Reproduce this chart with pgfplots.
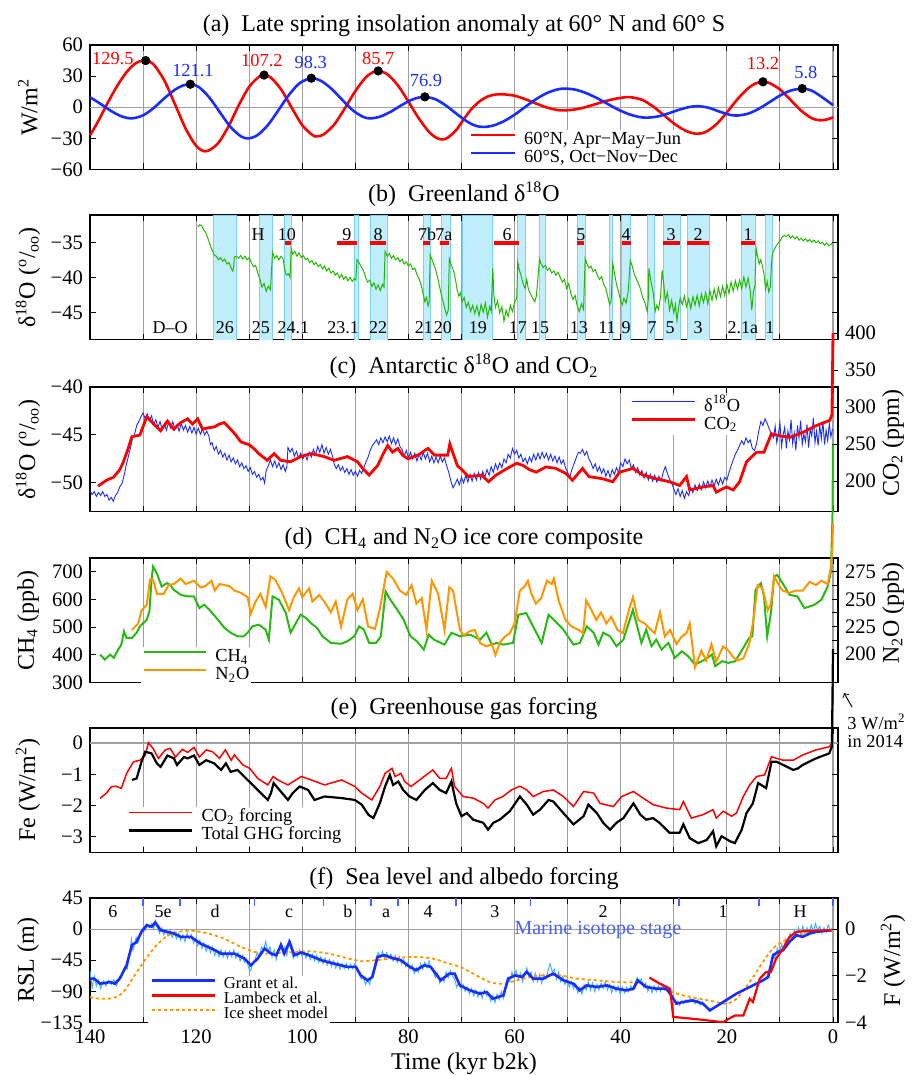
\documentclass[border=0pt]{standalone}
\usepackage{fontspec}
\setmainfont{Liberation Serif}
\usepackage{pgfplots}
\pgfplotsset{compat=1.18}

\definecolor{cred}{RGB}{255,0,0}
\definecolor{cblue}{RGB}{25,45,255}
\definecolor{cgreen}{RGB}{35,185,0}
\definecolor{cch4}{RGB}{40,185,20}
\definecolor{corange}{RGB}{255,150,0}
\definecolor{clight}{RGB}{70,175,255}
\definecolor{cmis}{RGB}{70,95,255}
\definecolor{cband}{RGB}{192,238,252}
\definecolor{cbandedge}{RGB}{125,208,245}
\definecolor{cgrid}{RGB}{160,160,160}

\newcommand\fT{\fontsize{12}{14}\selectfont}
\newcommand\fK{\fontsize{10.3}{12}\selectfont}
\newcommand\fL{\fontsize{9.2}{11}\selectfont}
\newcommand\fS{\fontsize{9}{10.5}\selectfont}
\newcommand\band[2]{\addplot[fill=cband, draw=cbandedge, line width=0.4pt, forget plot] coordinates {(#1,-48.8) (#1,-31) (#2,-31) (#2,-48.8)};}

\pgfplotsset{
  every axis title shift=0pt,
  pan/.style={
    scale only axis, width=374pt, height=62.25pt,
    xmin=-0.94, xmax=140, x dir=reverse,
    xtick={0,10,...,140}, xticklabels={},
    xmajorgrids, major grid style={cgrid, line width=0.55pt},
    axis line style={line width=0.85pt},
    tick style={black, line width=0.5pt}, major tick length=3pt, tick align=inside,
    tick label style={font=\fK},
    /pgf/number format/assume math mode=true,
    title style={at={(0.5,1)}, anchor=base, yshift=6.8pt, font=\fT},
    ylabel style={at={(axis description cs:-0.0829,0.5)}, anchor=center, font=\fT},
    legend cell align=left,
    legend style={draw=none, fill=white, font=\fL, inner sep=1pt,
      nodes={inner sep=0pt, text height=6.5pt, text depth=2pt},
      row sep=0.5pt, /tikz/every odd column/.append style={column sep=4pt}},
  },
  rax/.style={
    scale only axis, width=374pt,
    xmin=-0.94, xmax=140, x dir=reverse,
    axis x line=none, axis y line*=right, xtick=\empty,
    y axis line style={draw=none},
    tick style={black, line width=0.5pt}, major tick length=3pt, tick align=inside,
    tick label style={font=\fK},
    /pgf/number format/assume math mode=true,
    ylabel style={anchor=center, font=\fT},
  },
}

\begin{document}
\begin{tikzpicture}

% ---------------- (a) insolation
\begin{axis}[pan, at={(0pt,-22.5pt)}, anchor=north west, clip=false,
  ymin=-60, ymax=60, ytick={-60,-30,0,30,60}, yticklabels={−60,−30,0,30,60},
  title={(a)\enspace Late spring insolation anomaly at 60° N and 60° S},
  ylabel={W/m\textsuperscript{2}},
  legend style={at={(axis description cs:0.505,0.323)}, anchor=north west},
  legend image code/.code={\draw[#1] (0pt,2.5pt) -- (21.7pt,2.5pt);}]
\addplot[cgrid, line width=0.55pt, forget plot] coordinates {(-0.94,0) (140,0)};
\addplot[cred, line width=1.3pt, smooth] coordinates {
(140,-27) (139,-18.5) (138,-9) (137,1) (136,10.5) (135,19.5) (134,27.5) (133,34.5) (132,40) (131,43.5) (130,45) (129.5,45.2)
(128,41.2) (126,25.9) (124,3.0) (122,-20.3) (120,-37.2) (118.2,-42.5) (116,-35.5) (114,-19.4) (112,1.6) (110,19.8) (108,30.0) (107.2,31)
(106,28.9) (104,17.3) (102,-0.4) (100,-17.3) (98,-27.1) (97.2,-28) (96,-26.3) (94,-16.8) (92,-1.2) (90,15.6) (88,29) (86.5,34.2) (85.7,35)
(84,31.9) (82,21.2) (80,5.4) (78,-11.1) (76,-24.4) (74.5,-30) (73.5,-31) (72.5,-29) (71,-22) (69.5,-11) (68,-1) (66.5,6) (65,10.5) (63.5,12.3) (62.2,12.5)
(60,11.1) (58,7.8) (56,3.7) (54,-0.1) (52,-2.6) (50.8,-3) (49,-2.4) (47,-0.4) (45,2.6) (43,5.7) (41,8.2) (39.5,9.4) (38.2,9.7)
(36,7.2) (34,1.1) (32,-7.0) (30,-15.5) (28,-22.1) (26.5,-24.9) (25.4,-25.5) (24,-23.9) (22,-16.5) (20,-5.0) (18,7.8) (16,18.3) (14.5,23.1) (13.2,24.5)
(12,23.4) (10,17.2) (8,7.1) (6,-3.3) (4,-10.6) (2.4,-12.6) (1,-11.6) (0,-9.7)};
\addlegendentry{60°N, Apr−May−Jun}
\addplot[cblue, line width=1.3pt, smooth] coordinates {
(140,9.7) (138,3.2) (136,-3.7) (134,-8.9) (132.1,-10.7) (130,-7.8) (128,-0.7) (126,8.6) (124,16.9) (122.5,20.9) (121.1,22.2)
(119.5,19.5) (117.5,9.3) (115.5,-5.0) (113.5,-19.1) (111.5,-28.2) (110.2,-30) (108.5,-27.1) (106.5,-17.3) (104.5,-2.9) (102.5,12) (100.5,23.2) (98.3,28)
(96.5,25.5) (94.5,17.8) (92.5,7.3) (90.5,-2.9) (88.5,-9.4) (87.2,-10.7) (85.5,-9.3) (83.5,-4.8) (81.5,1.4) (79.5,7.0) (78,9.4) (76.9,10)
(75,7.9) (73,1.9) (71,-6.1) (69,-13.6) (67.5,-17.6) (65.9,-19) (64,-17.6) (62,-13.4) (60,-7.2) (58,0.3) (56,7.6) (54,13.5) (52,17.1) (50.5,18)
(48.5,16.9) (46.5,13.6) (44.5,8.9) (42.5,3.3) (40.5,-2.2) (38.5,-6.6) (36.5,-9.4) (35,-10) (33,-8.9) (31,-5.9) (29,-2.4) (27,0.3) (25.4,1)
(23.5,-0.4) (21.5,-4.0) (19.5,-7.2) (18.1,-8) (16,-6.2) (14,-1.5) (12,4.8) (10,11.3) (8,16.0) (5.8,18) (4,16) (2,9.5) (0,2)};
\addlegendentry{60°S, Oct−Nov−Dec}
\addplot[only marks, mark=*, mark size=2.1pt, black, forget plot] coordinates {
(129.5,45) (107.2,31) (85.7,35) (13.2,24.5) (121.1,22.2) (98.3,28) (76.9,10) (5.8,18)};
\node[cred, font=\fL] at (axis cs:135.7,47.4) {129.5};
\node[cred, font=\fL] at (axis cs:107.6,45.5) {107.2};
\node[cred, font=\fL] at (axis cs:85.7,47.4) {85.7};
\node[cred, font=\fL] at (axis cs:13.2,42.6) {13.2};
\node[cblue, font=\fL] at (axis cs:120.6,35.8) {121.1};
\node[cblue, font=\fL] at (axis cs:98.4,43.5) {98.3};
\node[cblue, font=\fL] at (axis cs:76.7,26) {76.9};
\node[cblue, font=\fL] at (axis cs:5.1,33.9) {5.8};
\end{axis}

% ---------------- (b) Greenland d18O
\begin{axis}[pan, at={(0pt,-107.5pt)}, anchor=north west,
  ymin=-48.8, ymax=-31, ytick={-45,-40,-35}, yticklabels={−45,−40,−35},
  title={(b)\enspace Greenland δ\textsuperscript{18}O},
  ylabel={δ\textsuperscript{18}O (\textsuperscript{o}/\textsubscript{oo})}]
\band{116.8}{112.5}\band{108.0}{105.7}\band{103.3}{102.1}\band{90.1}{89.5}
\band{87.2}{84.0}\band{77.2}{75.8}\band{73.7}{72.0}\band{69.9}{64.1}
\band{59.4}{58.0}\band{55.4}{54.1}\band{48.2}{46.7}\band{42.2}{41.5}
\band{39.8}{38.1}\band{34.9}{33.7}\band{32.0}{28.8}\band{27.5}{23.2}
\band{17.3}{14.7}\band{12.8}{11.5}
\addplot[cgreen, line width=0.5pt] coordinates {
(119.7,-32.7) (119.3,-32.4) (119.0,-32.5) (118.6,-33.1) (118.2,-33.5) (117.8,-34.3) (117.4,-35.2) (117.0,-36.0) (116.6,-36.7) (116.2,-36.9)
(115.8,-37.4) (115.4,-37.1) (115.0,-37.6) (114.6,-37.3) (114.2,-38.0) (113.8,-37.8) (113.4,-38.6) (113.1,-39.0) (112.9,-38.2) (112.8,-37.0)
(112.4,-36.9) (112.0,-37.2) (111.6,-36.8) (111.2,-37.3) (110.8,-36.9) (110.4,-37.4) (110.0,-37.1) (109.6,-37.8) (109.2,-38.4) (108.8,-38.2)
(108.4,-39.3) (108.0,-40.1) (107.6,-41.3) (107.2,-40.8) (106.8,-41.9) (106.4,-41.2) (106.0,-41.7) (105.8,-39.0) (105.6,-36.3) (105.2,-37.2)
(104.8,-36.8) (104.4,-37.4) (104.0,-36.9) (103.6,-37.3) (103.3,-38.8) (103.0,-39.6) (102.6,-39.4) (102.3,-39.9) (102.1,-35.8) (101.8,-36.6)
(101.4,-36.2) (101.0,-36.9) (100.6,-36.4) (100.2,-37.1) (99.8,-36.8) (99.4,-37.4) (99.0,-37.2) (98.6,-37.8) (98.2,-37.5) (97.8,-38.1)
(97.4,-37.8) (97.0,-38.4) (96.6,-38.1) (96.2,-38.7) (95.8,-38.3) (95.4,-39.0) (95.0,-38.6) (94.6,-39.3) (94.2,-39.0) (93.8,-39.6)
(93.4,-39.3) (93.0,-40.0) (92.6,-39.5) (92.2,-40.2) (91.8,-39.8) (91.4,-40.4) (91.0,-39.9) (90.6,-40.5) (90.2,-40.1) (89.9,-40.3)
(89.7,-37.4) (89.3,-37.8) (88.9,-38.4) (88.5,-38.9) (88.1,-39.8) (87.7,-40.6) (87.3,-40.3) (86.9,-41.2) (86.5,-40.7) (86.1,-41.6)
(85.7,-41.0) (85.3,-41.8) (84.9,-40.9) (84.6,-41.3) (84.4,-36.2) (84.0,-36.9) (83.6,-36.5) (83.2,-37.2) (82.8,-36.8) (82.4,-37.4)
(82.0,-37.1) (81.6,-37.7) (81.2,-37.3) (80.8,-38.0) (80.4,-37.7) (80.0,-38.3) (79.6,-38.0) (79.2,-38.8) (78.8,-38.6) (78.4,-39.5)
(78.0,-40.1) (77.6,-41.0) (77.2,-42.3) (76.9,-43.4) (76.6,-42.8) (76.3,-44.0) (76.1,-43.5) (75.9,-36.7) (75.6,-37.3) (75.3,-37.9)
(75.0,-38.5) (74.6,-39.6) (74.2,-41.0) (73.8,-42.4) (73.4,-43.6) (73.1,-44.5) (72.8,-45.3) (72.5,-44.6) (72.3,-37.2) (72.0,-38.0)
(71.7,-38.6) (71.4,-39.2) (71.1,-40.4) (70.8,-41.8) (70.5,-42.6) (70.2,-42.1) (69.9,-43.4) (69.5,-42.8) (69.1,-44.2) (68.7,-43.5)
(68.3,-44.8) (67.9,-43.9) (67.5,-45.1) (67.1,-44.0) (66.7,-45.4) (66.3,-43.8) (65.9,-44.9) (65.5,-43.6) (65.1,-45.6) (64.7,-44.1)
(64.4,-44.8) (64.1,-38.6) (63.9,-42.5) (63.6,-44.2) (63.2,-43.3) (62.8,-45.0) (62.4,-44.1) (62.0,-46.2) (61.6,-44.6) (61.2,-45.5)
(60.8,-43.9) (60.4,-44.8) (60.0,-43.5) (59.6,-42.9) (59.4,-37.7) (59.1,-38.9) (58.8,-39.6) (58.4,-40.8) (58.0,-41.5) (57.7,-40.2)
(57.4,-41.6) (57.0,-42.3) (56.6,-42.9) (56.2,-43.4) (55.9,-42.6) (55.6,-40.0) (55.3,-37.3) (55.0,-38.0) (54.6,-38.5) (54.2,-38.2)
(53.8,-38.9) (53.4,-38.6) (53.0,-39.3) (52.6,-39.0) (52.2,-39.6) (51.8,-39.2) (51.4,-39.9) (51.0,-40.6) (50.6,-40.2) (50.2,-41.5)
(49.8,-40.8) (49.4,-42.2) (49.0,-43.1) (48.6,-42.5) (48.2,-44.0) (47.8,-44.8) (47.4,-43.7) (47.0,-44.5) (46.7,-37.2) (46.4,-37.9)
(46.0,-38.6) (45.6,-38.3) (45.2,-39.1) (44.8,-38.8) (44.4,-39.6) (44.0,-40.2) (43.6,-39.8) (43.2,-40.9) (42.8,-41.5) (42.4,-42.8)
(42.1,-43.8) (41.8,-43.2) (41.5,-37.9) (41.2,-39.2) (40.8,-40.9) (40.4,-42.0) (40.0,-43.3) (39.7,-43.8) (39.4,-42.9) (39.0,-43.6)
(38.6,-42.0) (38.2,-37.5) (37.8,-38.4) (37.4,-39.6) (37.0,-40.2) (36.6,-40.9) (36.2,-41.8) (35.8,-42.9) (35.4,-43.6) (35.0,-44.8)
(34.8,-43.0) (34.7,-38.6) (34.3,-40.5) (33.9,-42.0) (33.5,-44.8) (33.2,-43.9) (32.9,-44.5) (32.5,-42.8) (32.2,-38.9) (31.9,-40.8)
(31.6,-43.3) (31.2,-42.1) (30.8,-44.6) (30.4,-43.2) (30.0,-45.0) (29.7,-43.8) (29.4,-46.1) (29.1,-44.2) (28.8,-42.9) (28.4,-43.8)
(28.0,-42.6) (27.6,-44.1) (27.2,-43.0) (26.8,-44.4) (26.4,-42.7) (26.0,-43.9) (25.6,-42.5) (25.2,-44.0) (24.8,-42.3) (24.4,-43.5)
(24.0,-42.1) (23.6,-43.7) (23.2,-41.8) (22.8,-43.2) (22.4,-41.6) (22.0,-43.0) (21.6,-41.4) (21.2,-42.7) (20.8,-41.2) (20.4,-42.5)
(20.0,-40.9) (19.6,-42.2) (19.2,-40.6) (18.8,-41.9) (18.4,-40.4) (18.0,-41.6) (17.6,-40.3) (17.2,-41.5) (16.8,-39.9) (16.4,-41.3)
(16.0,-40.0) (15.6,-41.8) (15.3,-44.6) (15.0,-42.0) (14.7,-41.0) (14.5,-35.7) (14.2,-37.0) (13.9,-38.0) (13.6,-37.4) (13.3,-38.3)
(13.0,-39.5) (12.7,-41.6) (12.4,-40.5) (12.1,-42.0) (11.8,-41.2) (11.6,-38.0) (11.4,-36.5) (11.1,-36.0) (10.8,-35.5) (10.4,-35.1)
(10.0,-34.7) (9.6,-34.2) (9.2,-33.9) (8.8,-34.1) (8.4,-33.8) (8.0,-34.3) (7.6,-34.0) (7.2,-34.4) (6.8,-34.1) (6.4,-34.6)
(6.0,-34.3) (5.6,-34.7) (5.2,-34.4) (4.8,-34.8) (4.4,-34.5) (4.0,-34.9) (3.6,-34.6) (3.2,-35.0) (2.8,-34.7) (2.4,-35.1)
(2.0,-34.9) (1.6,-35.3) (1.2,-35.0) (0.8,-35.4) (0.4,-35.2) (0.1,-35.0)};
\addplot[cred, line width=2pt, unbounded coords=jump] coordinates {
(103.3,-35) (102.1,-35) (100,nan) (93.5,-35) (89.7,-35) (88,nan) (87.2,-35) (84.2,-35) (80,nan)
(77.3,-35) (75.9,-35) (75,nan) (74.0,-35) (72.4,-35) (70,nan) (63.9,-35) (59.2,-35) (50,nan)
(48.2,-35) (46.9,-35) (45,nan) (39.8,-35) (38.1,-35) (35,nan) (32.0,-35) (28.8,-35) (28,nan)
(27.5,-35) (23.4,-35) (20,nan) (17.3,-35) (14.7,-35)};
\foreach \x/\t in {108.3/H,102.9/10,91.6/9,85.7/8,76.5/7b,73.3/7a,61.4/6,47.5/5,39.0/4,30.5/3,25.4/2,16.0/1}
  {\edef\tmp{\noexpand\node[font=\noexpand\fS, anchor=base] at (axis cs:\x,-34.7) {\t};}\tmp}
\foreach \x/\t in {124.9/D–O,114.6/26,107.8/25,101.7/24.1,92.3/23.1,85.7/22,77.1/21,73.5/20,66.9/19,59.4/17,55.2/15,47.9/13,42.6/11,39.0/9,34.1/7,30.7/5,25.4/3,17.0/2.1a,11.9/1}
  {\edef\tmp{\noexpand\node[font=\noexpand\fS, anchor=base] at (axis cs:\x,-48.0) {\t};}\tmp}
\end{axis}

% ---------------- (c) Antarctic d18O and CO2
\begin{axis}[pan, at={(0pt,-193.5pt)}, anchor=north west,
  ymin=-52.97, ymax=-40, ytick={-50,-45,-40}, yticklabels={−50,−45,−40}, ytick pos=left,
  title={(c)\enspace Antarctic δ\textsuperscript{18}O and CO\textsubscript{2}},
  ylabel={δ\textsuperscript{18}O (\textsuperscript{o}/\textsubscript{oo})},
  legend style={at={(axis description cs:0.7193,0.928)}, anchor=north west},
  legend image code/.code={\draw[#1] (0pt,2.5pt) -- (31.5pt,2.5pt);}]
\addplot[cblue, line width=0.45pt] coordinates {
(140,-50.8) (139.6,-51.2) (139.2,-50.9) (138.8,-51.4) (138.4,-51.0) (138.0,-51.3) (137.6,-50.9) (137.2,-51.4) (136.8,-51.2) (136.4,-51.8)
(136.0,-51.5) (135.6,-51.9) (135.2,-51.3) (134.8,-51.0) (134.4,-50.4) (134.0,-50.1) (133.6,-49.3) (133.2,-48.2) (132.8,-47.3) (132.4,-46.4)
(132.0,-45.4) (131.6,-44.9) (131.2,-44.0) (130.8,-43.6) (130.4,-43.1) (130.0,-42.7) (129.6,-43.3) (129.2,-42.8) (128.8,-43.5) (128.4,-43.0)
(128.0,-43.9) (127.6,-43.4) (127.2,-44.2) (126.8,-43.6) (126.4,-44.4) (126.0,-43.8) (125.6,-44.5) (125.2,-43.7) (124.8,-44.3) (124.4,-43.6)
(124.0,-44.4) (123.6,-43.9) (123.2,-44.6) (122.8,-43.8) (122.4,-44.5) (122.0,-44.0) (121.6,-44.7) (121.2,-44.1) (120.8,-44.8) (120.4,-44.2)
(120.0,-44.9) (119.6,-44.3) (119.2,-44.9) (118.8,-44.4) (118.4,-45.0) (118.0,-44.6) (117.6,-45.1) (117.3,-46.0) (117.0,-45.8) (116.6,-46.6)
(116.2,-46.2) (115.8,-47.0) (115.4,-46.6) (115.0,-47.3) (114.6,-46.9) (114.2,-47.6) (113.8,-47.1) (113.4,-47.8) (113.0,-47.4) (112.6,-48.0)
(112.2,-47.6) (111.8,-48.3) (111.4,-47.9) (111.0,-48.5) (110.6,-48.2) (110.2,-48.8) (109.8,-48.4) (109.4,-49.1) (109.0,-48.8) (108.6,-49.4)
(108.2,-49.1) (107.8,-49.7) (107.4,-49.4) (107.1,-50.0) (106.8,-48.7) (106.4,-48.2) (106.0,-47.6) (105.6,-48.3) (105.2,-47.7) (104.8,-48.4)
(104.4,-47.9) (104.0,-48.6) (103.6,-48.1) (103.2,-48.8) (102.9,-48.3) (102.7,-46.3) (102.3,-46.8) (101.9,-46.4) (101.5,-47.2) (101.1,-46.7)
(100.7,-47.4) (100.3,-46.9) (99.9,-47.5) (99.5,-47.0) (99.1,-47.6) (98.7,-46.8) (98.3,-47.3) (97.9,-46.5) (97.5,-47.1) (97.1,-46.2)
(96.7,-46.8) (96.3,-46.0) (95.9,-46.9) (95.5,-46.3) (95.1,-47.0) (94.7,-46.5) (94.3,-47.2) (94.0,-48.0) (93.6,-48.5) (93.2,-48.1)
(92.8,-48.7) (92.4,-48.3) (92.0,-48.9) (91.6,-48.5) (91.2,-49.1) (90.8,-48.6) (90.4,-49.2) (90.0,-48.8) (89.6,-49.3) (89.2,-48.7)
(88.8,-49.0) (88.4,-48.4) (88.0,-47.8) (87.6,-47.3) (87.2,-46.6) (86.8,-46.1) (86.4,-45.8) (86.0,-45.5) (85.6,-46.0) (85.2,-45.3)
(84.8,-45.8) (84.4,-45.2) (84.0,-45.7) (83.6,-45.1) (83.2,-45.9) (82.8,-45.3) (82.4,-46.0) (82.0,-45.4) (81.6,-46.2) (81.2,-46.5)
(80.8,-47.2) (80.4,-46.6) (80.0,-47.4) (79.6,-46.8) (79.2,-47.5) (78.8,-46.9) (78.4,-47.7) (78.0,-47.0) (77.6,-47.6) (77.2,-46.8)
(76.8,-47.5) (76.4,-46.9) (76.0,-47.8) (75.6,-47.2) (75.2,-47.9) (74.8,-47.3) (74.4,-47.9) (74.0,-47.2) (73.6,-47.8) (73.2,-47.4)
(72.8,-48.2) (72.4,-48.9) (72.0,-49.8) (71.6,-50.5) (71.2,-50.1) (70.8,-49.6) (70.4,-50.2) (70.0,-49.4) (69.6,-50.0) (69.2,-49.2)
(68.8,-49.9) (68.4,-49.1) (68.0,-49.8) (67.6,-49.0) (67.2,-49.7) (66.8,-48.9) (66.4,-49.6) (66.0,-48.8) (65.6,-49.4) (65.2,-48.6)
(64.8,-49.2) (64.4,-48.3) (64.0,-48.9) (63.6,-48.0) (63.2,-48.6) (62.8,-47.9) (62.4,-48.4) (62.0,-47.5) (61.6,-47.9) (61.2,-47.0)
(60.8,-47.4) (60.4,-46.4) (60.0,-47.0) (59.6,-46.6) (59.2,-47.4) (58.8,-47.0) (58.4,-47.8) (58.0,-47.4) (57.6,-48.0) (57.2,-47.3)
(56.8,-47.8) (56.4,-47.0) (56.0,-47.6) (55.6,-46.9) (55.2,-47.5) (54.8,-46.8) (54.4,-47.4) (54.0,-46.9) (53.6,-47.6) (53.2,-47.0)
(52.8,-47.7) (52.4,-47.2) (52.0,-47.9) (51.6,-47.3) (51.2,-48.0) (50.8,-47.6) (50.4,-48.4) (50.0,-48.9) (49.6,-49.4) (49.2,-48.6)
(48.8,-48.0) (48.4,-47.4) (48.0,-46.8) (47.6,-46.9) (47.2,-46.5) (46.8,-47.1) (46.4,-46.7) (46.0,-47.5) (45.6,-47.9) (45.2,-48.5)
(44.8,-48.0) (44.4,-48.8) (44.0,-48.3) (43.6,-49.0) (43.2,-48.5) (42.8,-49.3) (42.4,-48.7) (42.0,-49.4) (41.6,-48.6) (41.2,-49.1)
(40.8,-48.4) (40.4,-48.9) (40.0,-47.9) (39.6,-48.3) (39.2,-47.5) (38.8,-48.0) (38.4,-47.6) (38.0,-48.5) (37.6,-48.1) (37.2,-48.9)
(36.8,-48.4) (36.4,-49.2) (36.0,-48.7) (35.6,-49.5) (35.2,-48.9) (34.8,-49.7) (34.4,-49.1) (34.0,-49.8) (33.6,-49.2) (33.2,-49.9)
(32.8,-49.3) (32.4,-49.8) (32.0,-48.9) (31.6,-48.3) (31.2,-49.0) (30.8,-49.6) (30.4,-50.0) (30.0,-50.6) (29.6,-51.2) (29.2,-50.6)
(28.8,-51.4) (28.4,-50.8) (28.0,-51.6) (27.6,-50.9) (27.2,-51.3) (26.8,-50.5) (26.4,-51.0) (26.0,-50.2) (25.6,-50.8) (25.2,-50.1)
(24.8,-50.7) (24.4,-49.9) (24.0,-50.5) (23.6,-49.8) (23.2,-50.4) (22.8,-49.7) (22.4,-50.3) (22.0,-49.6) (21.6,-50.2) (21.2,-49.5)
(20.8,-50.1) (20.4,-49.4) (20.0,-49.7) (19.6,-48.9) (19.2,-48.2) (18.8,-47.6) (18.4,-47.0) (18.0,-46.6) (17.6,-46.1) (17.2,-45.6)
(16.8,-46.0) (16.4,-45.3) (16.0,-45.8) (15.6,-45.5) (15.2,-46.4) (14.8,-46.6) (14.4,-45.9) (14.0,-44.6) (13.6,-43.6) (13.2,-44.0)
(12.8,-43.3) (12.4,-43.8) (12.0,-44.4) (11.6,-44.9) (11.2,-45.3) (10.9,-44.1) (10.6,-45.8) (10.3,-44.9) (10.0,-43.7) (9.7,-46.2)
(9.4,-45.0) (9.1,-44.2) (8.8,-46.4) (8.5,-44.6) (8.2,-45.5) (7.9,-43.4) (7.6,-45.9) (7.3,-44.8) (7.0,-46.6) (6.7,-44.0)
(6.4,-45.3) (6.1,-43.5) (5.8,-46.0) (5.5,-44.9) (5.2,-45.7) (4.9,-43.9) (4.6,-46.3) (4.3,-44.4) (4.0,-45.1) (3.7,-43.2)
(3.4,-45.8) (3.1,-44.6) (2.8,-46.1) (2.5,-44.0) (2.2,-45.4) (1.9,-43.6) (1.6,-46.0) (1.3,-44.5) (1.0,-45.6) (0.7,-43.8)
(0.4,-45.2) (0.1,-44.4)};
\addlegendentry{δ\textsuperscript{18}O}
\addlegendimage{cred, line width=1.4pt}
\addlegendentry{CO\textsubscript{2}}
\end{axis}
\begin{axis}[rax, at={(0pt,-255.75pt)}, anchor=south west, height=89.25pt,
  ymin=158.8, ymax=400, ytick={200,250,...,400},
  ylabel={CO\textsubscript{2} (ppm)},
  ylabel style={at={(axis description cs:1.0735,0.384)}}]
\addplot[cred, line width=1.4pt] coordinates {
(138.5,193) (136.9,201) (135.6,205) (134.4,215) (133.7,226) (132.8,244) (132.1,260) (130.6,262) (129.3,287) (128,277) (126.7,268)
(125.4,281) (124.2,270) (122.9,279) (121.6,284) (120.7,277) (119.7,284) (118.8,270) (117.6,272) (116.6,273) (115.6,277) (114.7,279)
(113.5,270) (112.5,262) (111.6,253) (110,249) (109,243) (108.2,237) (106.6,228) (105.3,237) (104.1,228) (102.2,226) (100.3,233)
(98.4,237) (97,235) (95.9,233) (94,228) (92.5,231) (91.5,233) (89.6,226) (88.5,216) (87.4,208) (85.8,221) (84.8,236) (83.9,248)
(83,239) (82,244) (81.1,235) (80.1,230) (78.2,235) (76.3,244) (75.1,235) (72.6,235) (72.2,250) (70.8,221) (69.9,215) (68.7,206)
(66.2,208) (64.9,199) (63.5,208) (61.4,217) (59.6,224) (58.4,221) (57.1,215) (55.9,212) (54.1,219) (52.2,217) (50.3,210) (49.1,201)
(47.2,217) (46,206) (43.4,203) (41.5,199) (40.2,212) (37.7,217) (35.8,208) (33.3,203) (30.8,199) (28.9,194) (27.6,206) (27,188)
(24.5,192) (22.6,194) (22,185) (20.1,192) (18.8,188) (17.6,199) (16.3,226) (14.4,239) (13,239) (11.6,264) (10,261) (8.1,259)
(5.6,266) (3.1,275) (0.6,282) (0.2,290) (0,400)};
\end{axis}

% ---------------- (d) CH4 and N2O
\begin{axis}[pan, at={(0pt,-279pt)}, anchor=north west, clip=false,
  ymin=300, ymax=750, ytick={300,400,...,700}, ytick pos=left,
  title={(d)\enspace CH\textsubscript{4} and N\textsubscript{2}O ice core composite},
  ylabel={CH\textsubscript{4} (ppb)},
  legend style={at={(axis description cs:0.0682,0.289)}, anchor=north west},
  legend image code/.code={\draw[#1] (0pt,2.5pt) -- (31pt,2.5pt);}]
\addplot[cch4, line width=1pt] coordinates {
(138.1,401) (137.2,383) (136.2,401) (135.5,389) (134.7,419) (134.1,437) (133.6,485) (133.1,461) (132.1,461) (131.2,480) (130.6,503)
(129.3,527) (128.8,557) (128.4,671) (128.1,719) (127.4,695) (126.5,647) (125.5,659) (124.9,653) (124.2,635) (122.9,617) (121.6,611)
(120.4,611) (119.4,569) (118.5,581) (117.5,563) (115.9,527) (114.7,498) (113.5,480) (112.2,467) (111.0,467) (110.3,480) (109.4,503)
(108.2,509) (106.9,491) (106.3,455) (105.6,611) (104.4,599) (103.1,551) (102.2,480) (101.2,515) (100.3,545) (99.3,533) (98.4,515)
(97.2,497) (96.2,467) (94.6,443) (92.7,440) (91.5,449) (90.2,467) (89.3,503) (88.4,491) (87.4,443) (86.1,443) (85.2,467) (84.3,629)
(83.4,599) (82.1,563) (80.9,527) (79.6,467) (78.4,449) (77.1,419) (76.2,473) (75.2,455) (73.2,437) (71.9,480) (70.3,467) (68.4,473)
(66.5,455) (65.3,480) (64.3,437) (63.4,443) (62.1,437) (60.3,443) (59.3,545) (57.8,551) (56.2,491) (54.9,443) (53.6,545) (52.3,521)
(50.8,491) (48.9,437) (47.7,443) (46.4,503) (45.1,480) (44.2,437) (43.3,480) (42.0,467) (40.8,431) (39.5,455) (37.7,563) (36.1,443)
(35.2,491) (34.2,431) (33.3,455) (32.3,419) (31.0,443) (29.8,389) (28.5,413) (27.3,395) (26.0,365) (24.1,383) (22.8,401) (22.2,359)
(20.9,377) (19.7,371) (18.4,377) (17.1,419) (15.8,461) (15.2,467) (14.6,635) (13.6,659) (13.0,611) (12.4,467) (11.7,551) (11.1,683)
(10.5,689) (9.5,659) (8.2,617) (6.7,611) (5.4,569) (4.4,575) (3.5,581) (2.2,599) (1.0,647) (0.4,700) (0.1,900) (0,1160)};
\addlegendentry{CH\textsubscript{4}}
\addlegendimage{corange, line width=1pt}
\addlegendentry{N\textsubscript{2}O}
\end{axis}
\begin{axis}[rax, at={(0pt,-341.25pt)}, anchor=south west, height=62.25pt, clip=false,
  ymin=173.9, ymax=287.8, ytick={200,225,250,275}, minor y tick num=1,
  ylabel={N\textsubscript{2}O (ppb)},
  ylabel style={at={(axis description cs:1.0735,0.558)}}]
\addplot[corange, line width=1pt] coordinates {
(132.1,222) (130.9,228) (130.3,240) (129.3,245) (128.7,268) (128.1,268) (127.4,255) (126.1,255) (125.2,263) (124.2,264) (122.9,269)
(122.0,264) (120.4,267) (119.2,261) (118.3,262) (117.1,267) (116.5,258) (115.6,264) (113.7,262) (112.8,258) (111.6,256) (110.3,252)
(109.7,237) (108.8,248) (107.9,255) (106.9,243) (106.0,271) (105.1,268) (103.8,256) (102.5,240) (101.6,252) (100.6,260) (100.0,252)
(98.7,260) (98.1,248) (96.8,254) (95.6,246) (94.6,238) (93.7,248) (92.7,225) (91.5,250) (90.5,255) (89.6,240) (88.6,250) (87.6,225)
(86.3,223) (85.4,241) (84.1,275) (82.9,269) (81.6,258) (80.4,254) (79.4,263) (78.5,246) (77.5,251) (76.6,222) (75.6,267) (74.4,255)
(73.2,222) (72.3,261) (71.6,258) (70.3,222) (69.6,217) (68.4,221) (67.5,222) (66.5,210) (65.3,207) (64.3,209) (63.6,199) (62.7,211)
(61.8,216) (60.9,219) (60.0,228) (59.0,258) (58.1,262) (57.5,267) (56.9,256) (56.0,246) (55.0,251) (53.9,267) (53.0,264) (52.6,269)
(51.7,249) (50.4,231) (49.2,225) (47.9,222) (47.1,219) (46.5,249) (45.5,240) (44.6,231) (43.7,238) (42.7,228) (41.8,234) (40.6,222)
(39.6,219) (38.3,243) (37.7,252) (36.7,231) (35.5,228) (34.5,223) (33.6,219) (32.6,238) (31.7,216) (30.7,222) (29.5,209) (28.5,216)
(27.6,219) (27.0,228) (26.0,188) (24.8,203) (23.9,194) (22.9,209) (22.0,193) (20.7,207) (19.7,203) (18.8,197) (17.9,194) (16.9,196)
(15.8,209) (15.0,231) (14.2,263) (13.3,260) (12.3,240) (11.7,246) (11.1,271) (10.2,263) (9.5,258) (8.2,256) (7.0,258) (5.7,258)
(4.4,266) (3.2,263) (2.2,267) (1.0,264) (0.4,279) (0.1,300) (0,320)};
\end{axis}

% ---------------- (e) GHG forcing
\begin{axis}[pan, at={(0pt,-364pt)}, anchor=north west, clip=false,
  ymin=-3.5, ymax=0.48, ytick={-3,-2,-1,0}, yticklabels={−3,−2,−1,0},
  title={(e)\enspace Greenhouse gas forcing},
  ylabel={Fe (W/m\textsuperscript{2})},
  legend style={at={(axis description cs:0.0481,0.369)}, anchor=north west},
  legend image code/.code={\draw[#1] (0pt,2.5pt) -- (31.5pt,2.5pt);}]
\addplot[cgrid, line width=0.55pt, forget plot] coordinates {(-0.94,0) (140,0)};
\addplot[cred, line width=0.75pt] coordinates {
(138.1,-1.77) (136.9,-1.6) (136,-1.4) (135.1,-1.38) (134.1,-1.45) (133.1,-0.97) (131.8,-0.6) (130.6,-0.55) (129.6,-0.4) (129,0.01)
(128.1,-0.18) (127.1,-0.49) (125.8,-0.22) (124.9,-0.17) (123.9,-0.45) (122.6,-0.2) (121.6,-0.3) (120.4,-0.14) (119.4,-0.45) (118.1,-0.22)
(116.9,-0.28) (115.6,-0.49) (114.5,-0.22) (113.4,-0.55) (112.8,-0.38) (111.2,-0.7) (109.9,-0.81) (108.4,-1.13) (106.5,-1.34) (105.5,-1.07)
(104.6,-1.18) (102.7,-1.34) (100.2,-1.07) (98.3,-1.18) (95.8,-1.34) (92.6,-1.18) (90.1,-1.39) (88.8,-1.6) (86.9,-1.82) (85.4,-1.39)
(84.4,-0.97) (83.1,-0.81) (82.5,-1.07) (81.4,-0.97) (80.7,-1.23) (79.5,-1.39) (77.9,-1.18) (75.4,-0.86) (74.1,-1.13) (72.9,-1.13)
(71.9,-0.81) (71.3,-1.39) (69.7,-1.71) (67.8,-1.76) (65.9,-1.93) (65,-2.08) (63.7,-1.82) (62.2,-1.71) (60.6,-1.5) (59,-1.38)
(57.7,-1.5) (56.5,-1.71) (54.6,-1.55) (52.7,-1.5) (50.8,-1.71) (48.9,-2.03) (47,-1.55) (45.1,-1.6) (43.9,-1.93) (41.4,-2.03)
(39.8,-1.71) (37.6,-1.55) (35.8,-1.76) (33.9,-1.97) (31.4,-2.08) (28.9,-2.13) (28.2,-1.87) (26.7,-2.4) (24.5,-2.29) (22.6,-2.13)
(22,-2.4) (20.7,-2.18) (19.1,-2.34) (18.2,-2.24) (16.9,-1.71) (15.7,-1.34) (14.4,-1.07) (12.9,-1.02) (11.6,-0.44) (10.6,-0.49)
(9.4,-0.55) (7.5,-0.55) (5.7,-0.38) (3.2,-0.22) (0.7,-0.12) (0.2,0) (0,1.9)};
\addlegendentry{CO\textsubscript{2} forcing}
\addplot[black, line width=1.1pt] coordinates {
(132.1,-1.18) (131.2,-1.13) (130.3,-0.6) (129.6,-0.28) (128.4,-0.33) (127.4,-0.65) (126.7,-0.76) (125.4,-0.4) (124.2,-0.49) (123.6,-0.7)
(122.3,-0.45) (121.6,-0.49) (120.4,-0.4) (119.4,-0.7) (118.1,-0.55) (116.6,-0.65) (115.3,-0.86) (114.4,-0.65) (113.5,-0.92) (112.2,-0.86)
(110.3,-1.18) (108.4,-1.5) (106.5,-1.82) (105.9,-1.6) (105.4,-1.28) (104.3,-1.5) (102.7,-1.82) (101.8,-1.6) (100.5,-1.39) (98.9,-1.5)
(97.7,-1.82) (95.8,-1.71) (92.6,-1.76) (90.1,-1.82) (88.8,-1.97) (87.5,-2.3) (86.6,-2.4) (85.4,-1.93) (84.4,-1.39) (83.5,-1.02)
(82.9,-1.34) (81.9,-1.23) (81,-1.5) (79.8,-1.71) (78.5,-1.82) (76.9,-1.5) (75.4,-1.28) (74.1,-1.5) (72.9,-1.6) (71.9,-1.23)
(71,-1.93) (70,-2.34) (69,-2.24) (67.8,-2.45) (65.9,-2.55) (65,-2.77) (64,-2.55) (62.8,-2.45) (60.9,-2.18) (59,-1.71)
(57.7,-1.97) (56.5,-2.29) (55.2,-2.13) (53.6,-1.82) (52.7,-1.87) (50.8,-2.24) (48.9,-2.6) (47,-2.34) (46.1,-1.97) (44.5,-2.24)
(43.3,-2.55) (42,-2.77) (40.8,-2.55) (39.5,-2.4) (37.6,-1.93) (36.3,-2.29) (35.2,-2.45) (33.9,-2.4) (32.7,-2.55) (30.8,-2.87)
(28.9,-2.87) (28.2,-2.6) (27,-3.04) (25.4,-3.2) (23.8,-3.1) (22.6,-2.82) (22,-3.3) (21,-2.98) (19.4,-3.14) (18.5,-3.2)
(17.2,-2.77) (16.3,-2.24) (15.1,-1.93) (14.1,-1.28) (12.6,-1.44) (11.6,-0.6) (10.6,-0.6) (9.4,-0.7) (7.5,-0.86) (6.6,-0.81)
(5.7,-0.7) (3.2,-0.49) (0.7,-0.33) (0.2,-0.1) (0,3)};
\addlegendentry{Total GHG forcing}
\end{axis}

% ---------------- (f) sea level and albedo forcing
\begin{axis}[pan, at={(0pt,-449pt)}, anchor=north west,
  ymin=-135, ymax=45, ytick={-135,-90,-45,0,45}, yticklabels={−135,−90,−45,0,45}, ytick pos=left,
  xticklabels={0,,20,,40,,60,,80,,100,,120,,140},
  xlabel={Time (kyr b2k)}, xlabel style={font=\fT, inner sep=0pt, yshift=-1pt},
  title={(f)\enspace Sea level and albedo forcing},
  ylabel={RSL (m)},
  legend style={at={(axis description cs:0.0775,0.377)}, anchor=north west,
    font=\fontsize{8.3}{9}\selectfont, nodes={inner sep=0pt, text height=5.5pt, text depth=1.5pt}},
  legend image code/.code={\draw[#1] (0pt,2.3pt) -- (31.5pt,2.3pt);}]
\addplot[cgrid, line width=0.55pt, forget plot] coordinates {(-0.94,0) (140,0)};
\addplot[clight, line width=0.5pt, unbounded coords=jump, forget plot] coordinates {
(140,-60) (139.6,-85) (139.2,-68) (138.8,-82) (138.4,-74) (138,-86) (137.5,-75) (137,-82) (136.5,-74) (136,-80) (135.5,-73) (135,-82)
(134.5,-70) (134,-66) (133.5,-55) (133,-58) (132.6,-40) (132.2,-15) (131.9,-30) (131.6,-22) (131.3,-12) (131,-20) (130.6,-10) (130.3,-2)
(130,2) (129.6,-2) (129.2,6) (128.8,2) (128.4,8) (128,0) (127.7,12) (127.3,2) (126.9,-6) (126.5,2) (126.1,-8) (125.7,-2) (125.3,-10)
(124.9,-2) (124.5,-12) (124.1,-4) (123.7,-14) (123.3,-6) (122.9,-16) (122.5,-8) (122.1,-18) (121.7,-6) (121.3,-14) (120.9,-8) (120.5,-20)
(120.1,-14) (119.7,-24) (119.3,-16) (118.9,-28) (118.5,-20) (118.1,-32) (117.7,-24) (117.3,-34) (116.9,-26) (116.5,-38) (116.1,-30)
(115.7,-40) (115.3,-30) (114.9,-40) (114.5,-32) (114.1,-42) (113.7,-32) (113.3,-40) (112.9,-30) (112.5,-42) (112.1,-34) (111.7,-46)
(111.3,-38) (110.9,-48) (110.5,-44) (110.1,-56) (109.7,-60) (109.3,-48) (108.9,-44) (108.5,-34) (108.1,-40) (107.7,-26) (107.3,-30)
(106.9,-18) (106.5,-32) (106.1,-26) (105.7,-40) (105.3,-30) (104.9,-44) (104.5,-30) (104.1,-20) (103.7,-34) (103.3,-26) (102.9,-38)
(102.5,-16) (102.1,-30) (101.7,-42) (101.3,-34) (100.9,-40) (100.5,-30) (100.1,-38) (99.7,-32) (99.3,-42) (98.9,-34) (98.5,-44)
(98.1,-36) (97.7,-46) (97.3,-38) (96.9,-48) (96.5,-40) (96.1,-50) (95.7,-42) (95.3,-52) (94.9,-44) (94.5,-54) (94.1,-46) (93.7,-56)
(93.3,-48) (92.9,-58) (92.5,-50) (92.1,-57) (91.7,-50) (91.3,-58) (90.9,-51) (90.5,-57) (90.1,-50) (89.7,-58) (89.3,-64) (88.9,-72)
(88.5,-70) (88.1,-80) (87.7,-74) (87.3,-80) (86.9,-66) (86.5,-56) (86.1,-42) (85.7,-34) (85.3,-40) (84.9,-32) (84.5,-42) (84.1,-34)
(83.7,-42) (83.3,-36) (82.9,-46) (82.5,-38) (82.1,-48) (81.7,-40) (81.3,-50) (80.9,-44) (80.5,-54) (80.1,-48) (79.7,-58) (79.3,-52)
(78.9,-64) (78.5,-56) (78.1,-62) (77.7,-50) (77.3,-58) (76.9,-48) (76.5,-56) (76.1,-46) (75.7,-58) (75.3,-62) (74.9,-70) (74.5,-64)
(74.1,-78) (73.7,-70) (73.3,-76) (72.9,-62) (72.5,-70) (72.1,-60) (71.7,-68) (71.3,-72) (70.9,-84) (70.5,-76) (70.1,-86) (69.7,-80)
(69.3,-90) (68.9,-84) (68.5,-94) (68.1,-86) (67.7,-96) (67.3,-88) (66.9,-98) (66.5,-90) (66.1,-100) (65.7,-88) (65.3,-96) (64.9,-92)
(64.5,-104) (64.1,-96) (63.7,-106) (63.3,-94) (62.9,-102) (62.5,-90) (62.1,-100) (61.7,-84) (61.3,-70) (60.9,-76) (60.5,-62) (60.1,-70)
(59.7,-60) (59.3,-72) (58.9,-64) (58.5,-76) (58.1,-66) (57.7,-56) (57.3,-68) (56.9,-62) (56.5,-76) (56.1,-64) (55.7,-76) (55.3,-66)
(54.9,-78) (54.5,-66) (54.1,-72) (53.7,-60) (53.3,-50) (52.9,-62) (52.5,-58) (52.1,-72) (51.7,-62) (51.3,-76) (50.9,-68) (50.5,-80)
(50.1,-72) (49.7,-84) (49.3,-76) (48.9,-86) (48.5,-80) (48.1,-92) (47.7,-84) (47.3,-94) (46.9,-80) (46.5,-88) (46.1,-76) (45.7,-88)
(45.3,-78) (44.9,-90) (44.5,-80) (44.1,-88) (43.7,-78) (43.3,-86) (42.9,-76) (42.5,-88) (42.1,-80) (41.7,-92) (41.3,-82) (40.9,-90)
(40.5,-82) (40.1,-94) (39.7,-84) (39.3,-92) (38.9,-84) (38.5,-90) (38.1,-82) (37.7,-88) (37.3,-78) (36.9,-70) (36.5,-76) (36.1,-72)
(35.7,-84) (35.3,-78) (34.9,-90) (34.5,-82) (34.1,-92) (33.7,-82) (33.3,-90) (32.9,-82) (32.5,-90) (32.1,-80) (31.7,-88) (31.3,-82)
(30.9,-90) (30.5,-94) (30.1,-100) (29.7,-108) (29.3,-104) (28.9,-110) (28.5,-104) (28.1,-108) (27.7,-102) (27.3,-106) (26.9,-100)
(26.5,-104) (26.0,-108) (25.5,-102) (25.0,-110) (24.5,-104) (18,nan)
(12.5,-70) (12.1,-60) (11.7,-52) (11.3,-36) (10.9,-44) (10.5,-28) (10.1,-36) (9.7,-22) (9.3,-30) (8.9,-14) (8.5,-20) (8.1,-6)
(7.7,-14) (7.3,-2) (6.9,-10) (6.5,2) (6.1,-8) (5.7,4) (5.3,-6) (4.9,2) (4.5,-6) (4.1,6) (3.7,-4) (3.3,8) (2.9,-2) (2.5,4)
(2.1,-6) (1.7,2) (1.3,-4) (0.9,6) (0.5,-2) (0.1,2)};
\addplot[corange, line width=0.9pt, dash pattern=on 1.6pt off 1.4pt, smooth, forget plot] coordinates {
(140,-98.2) (138.1,-100.6) (135.6,-99.6) (133.7,-90.9) (131.8,-69.2) (129.9,-47.4) (128,-28) (126.1,-13.5) (124.2,-5.3) (121.6,-2.4)
(119.2,-3.9) (116.6,-8.7) (114.1,-16) (111.6,-25.6) (109,-32.9) (106.5,-35.3) (102.7,-33.8) (98.9,-31.9) (95.1,-35.3) (91.3,-42.5)
(88.8,-46.4) (86.2,-45) (83.1,-42.5) (79.3,-40.1) (75.5,-42.5) (72.4,-49.8) (70,-55.5) (67.2,-66.8) (64.7,-76.5) (62.2,-78.9)
(59.6,-74) (57.1,-69.2) (54.6,-66.8) (51.4,-66.8) (48.3,-71.6) (44.5,-74) (40.8,-76.5) (37,-77.5) (34.5,-83.7) (31.4,-88.5)
(28.3,-95.7) (25.1,-100.6) (22,-105.4) (20.1,-107.8) (18.2,-100.6) (15.7,-76.5) (13.2,-47.4) (11.3,-28) (9.4,-17.5) (6.9,-9.7)
(4.4,-5.3) (1.9,-2.9) (0,-2.4)};
\addplot[cblue, line width=1.3pt, forget plot] coordinates {
(140,-71.6) (139.2,-71.6) (138.1,-78.9) (136.2,-76.5) (135.3,-78.9) (134.4,-71.6) (133.1,-52.2) (132.1,-23.2) (131.2,-18.4) (130.3,-3.9)
(129.3,5.8) (128.4,3.4) (127.7,9.7) (126.7,-1.5) (125.4,-3.9) (124.2,-6.3) (122.9,-11.2) (121,-11.2) (119.2,-20.8) (117.1,-28)
(115.3,-35.3) (112.8,-35.3) (110.9,-42.5) (109.7,-52.2) (108.4,-42.5) (107.1,-28) (105.9,-35.3) (104.9,-37.7) (104,-23.2) (103.4,-35.3)
(102.4,-18.4) (101.5,-37.7) (100.2,-33.8) (98.4,-38.6) (96.4,-45) (94,-49.8) (91.5,-54.6) (89.9,-54.6) (89,-66.8) (87.7,-74)
(86.8,-69.2) (85.8,-40.1) (84.6,-37.7) (82.7,-42.5) (81.4,-45) (80.2,-52.2) (78.6,-59.4) (77,-52.2) (75.8,-54.6) (73.9,-74)
(72.3,-64.3) (71.3,-64.3) (70.3,-81.3) (68.4,-88.5) (66.5,-93.3) (65.3,-90.9) (64.1,-100.6) (62.1,-95.7) (61.2,-71.6) (59.9,-66.8)
(58.6,-69.2) (57.7,-61.9) (56.5,-71.6) (54.6,-71.6) (52.7,-64.3) (50.8,-74) (48.9,-78.9) (47.7,-88.5) (46.4,-81.3) (44.5,-83.7)
(42.6,-81.3) (40.8,-86.1) (38.9,-88.5) (37.6,-86.1) (36.8,-74) (35.2,-83.7) (33.3,-86.1) (31.4,-86.1) (30.5,-95.7) (29.5,-107.8)
(28.3,-105.4) (26.4,-103) (24.5,-107.8) (23.2,-117.5) (20.7,-105.4) (18.2,-93.3) (15.7,-83.7) (13.2,-74) (12.2,-69.2) (11.3,-37.7)
(10.3,-32.9) (9.4,-30.4) (8.2,-18.4) (6.9,-8.7) (5.7,-11.2) (4.4,-6.3) (3.2,-3.9) (1.9,-2.9) (0.3,-1.5)};
\addplot[cred, line width=1.1pt, forget plot] coordinates {
(34.6,-70.1) (32.6,-78.9) (30.7,-86.1) (30.1,-127.3) (29.5,-127.3) (25.1,-130.7) (20.7,-134.6) (19.7,-129.8) (18.5,-125) (16.9,-125)
(15.7,-100.6) (15.1,-105.4) (13.8,-71.6) (12.6,-61.9) (11.7,-61.9) (10.7,-42.5) (9.4,-28) (8.2,-11.2) (6.9,-3.9) (4.4,-2.4) (0.3,-1.5)};
\addplot[cmis, line width=0.8pt, unbounded coords=jump, forget plot] coordinates {
(130,45) (130,34) (129,nan) (123,45) (123,34) (122,nan) (109,45) (109,34) (108,nan) (96,45) (96,34) (95,nan)
(87,45) (87,34) (86,nan) (82,45) (82,34) (81,nan) (71,45) (71,34) (70,nan) (57,45) (57,34) (56,nan)
(29,45) (29,34) (28,nan) (14,45) (14,34) (13,nan) (0,45) (0,34)};
\foreach \x/\t in {135.7/6,126.2/5e,116.4/d,102.5/c,91.4/b,84.2/a,76.3/4,63.7/3,43.3/2,20.7/1,6.2/H}
  {\edef\tmp{\noexpand\node[font=\noexpand\fS, anchor=base] at (axis cs:\x,17.5) {\t};}\tmp}
\node[cmis, font=\fontsize{10}{12}\selectfont, anchor=base, inner sep=0pt] at (axis cs:44.3,-7.5) {Marine isotope stage};
\addlegendimage{cblue, line width=1.3pt}
\addlegendentry{Grant et al.}
\addlegendimage{cred, line width=1.3pt}
\addlegendentry{Lambeck et al.}
\addlegendimage{corange, line width=0.9pt, dash pattern=on 1.6pt off 1.4pt}
\addlegendentry{Ice sheet model}
\end{axis}
\begin{axis}[rax, at={(0pt,-511.25pt)}, anchor=south west, height=62.25pt,
  ymin=-4, ymax=1.3333, ytick={-4,-2,0}, yticklabels={−4,−2,0}, minor ytick={-3,-1},
  ylabel={F (W/m\textsuperscript{2})},
  ylabel style={at={(axis description cs:1.0735,0.5)}}]
\end{axis}

% annotation of the 2014 forcing
\draw[->, line width=0.5pt] (381pt,-353.5pt) -- (377pt,-346.5pt);
\node[anchor=west, font=\fL, inner sep=0pt] at (378.5pt,-361pt) {3 W/m\textsuperscript{2}};
\node[anchor=west, font=\fL, inner sep=0pt] at (378.5pt,-370.5pt) {in 2014};

\pgfresetboundingbox
\path (-45pt,0pt) rectangle (410.5pt,-537.5pt);
\end{tikzpicture}
\end{document}
